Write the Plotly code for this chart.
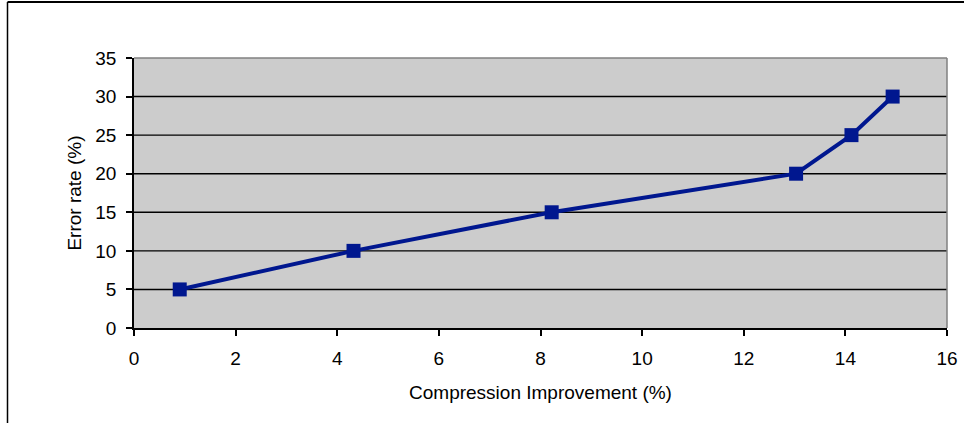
import plotly.graph_objects as go

compression_improvement = [0.9, 4.32, 8.22, 13.03, 14.12, 14.93]
error_rate = [5, 10, 15, 20, 25, 30]
x_ticks = [0, 2, 4, 6, 8, 10, 12, 14, 16]
y_ticks = [0, 5, 10, 15, 20, 25, 30, 35]

W, H = 964, 423
L, R, T, B = 134, 17, 58, 95
pw, ph = W - L - R, H - T - B

navy = "#00178F"
font = dict(family="Liberation Sans, Arial, sans-serif", size=19, color="#000000")

fig = go.Figure()
fig.add_trace(go.Scatter(
    x=compression_improvement, y=error_rate, mode="lines+markers",
    line=dict(color=navy, width=4),
    marker=dict(symbol="square", size=14, color=navy, line=dict(width=0)),
    showlegend=False, cliponaxis=False,
))

shapes = []
for v in y_ticks[1:-1]:
    shapes.append(dict(type="line", xref="paper", yref="y", x0=0, x1=1, y0=v, y1=v,
                       line=dict(color="#000000", width=1.4), layer="below"))
shapes.append(dict(type="line", xref="paper", yref="paper", x0=0, x1=1, y0=1, y1=1,
                   line=dict(color="#808080", width=1.5)))
shapes.append(dict(type="line", xref="paper", yref="paper", x0=1, x1=1, y0=0, y1=1,
                   line=dict(color="#808080", width=1.5)))
top_y = (H - B - 2) / ph
left_x = (7.5 - L) / pw
shapes.append(dict(type="line", xref="paper", yref="paper", x0=left_x, x1=(W + 5 - L) / pw,
                   y0=top_y, y1=top_y, line=dict(color="#000000", width=2)))
shapes.append(dict(type="line", xref="paper", yref="paper", x0=left_x, x1=left_x,
                   y0=top_y, y1=-(B + 5) / ph, line=dict(color="#000000", width=1.5)))

fig.update_layout(
    width=W, height=H,
    margin=dict(l=L, r=R, t=T, b=B, pad=0, autoexpand=False),
    paper_bgcolor="#FFFFFF", plot_bgcolor="#CCCCCC",
    font=font,
    shapes=shapes,
    xaxis=dict(
        range=[0, 16], tickvals=x_ticks, ticks="outside", ticklen=6, tickcolor="#000000",
        tickwidth=1.5, showgrid=False, zeroline=False, showline=True, linecolor="#000000",
        linewidth=1.5, ticklabelstandoff=6, automargin=False,
        title=dict(text="Compression Improvement (%)", standoff=18, font=font),
    ),
    yaxis=dict(
        range=[0, 35], tickvals=y_ticks, ticks="outside", ticklen=6, tickcolor="#000000",
        tickwidth=1.5, showgrid=False, zeroline=False, showline=True, linecolor="#000000",
        linewidth=1.5, ticklabelstandoff=6, automargin=False,
        title=dict(text="Error rate (%)", standoff=9, font=font),
    ),
)

fig.write_html("out.html", config={"displayModeBar": False},
               post_script="document.body.style.margin='0';document.body.style.overflow='hidden';")
